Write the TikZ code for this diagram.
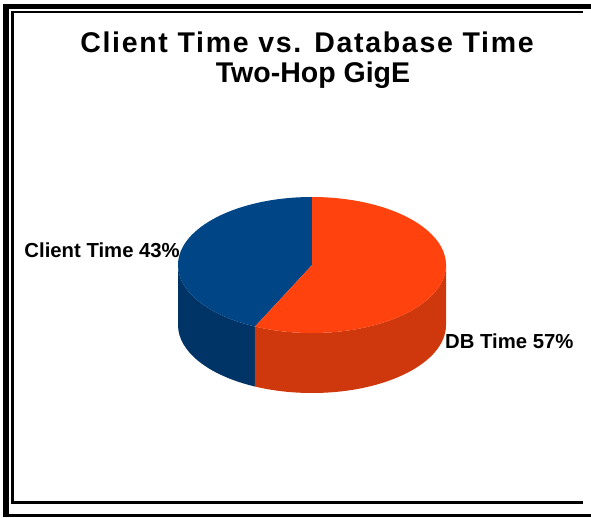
\documentclass[tikz,border=0pt]{standalone}
\usepackage{fontspec}
\setmainfont{Liberation Sans}
\usetikzlibrary{positioning}

\definecolor{clienttop}{RGB}{0,69,134}
\definecolor{clientside}{RGB}{0,52,102}
\definecolor{dbtop}{RGB}{255,66,14}
\definecolor{dbside}{RGB}{207,56,12}

\begin{document}
\begin{tikzpicture}[
  x=1pt, y=1pt,
  titletext/.style={inner sep=0pt, anchor=base, font=\fontsize{28.5}{31}\selectfont\bfseries},
  lbl/.style={inner sep=0pt, font=\fontsize{20.3}{24}\selectfont\bfseries},
  rim/.style={draw=black, line width=2.5pt},
  disc/.style={x radius=134, y radius=68}
]
  \useasboundingbox (0,0) rectangle (591,517);

  % Marco
  \fill[black] (3,508) rectangle (591,513);
  \fill[black] (3,0) rectangle (9,513);
  \fill[black] (3,0) rectangle (591,3);
  \draw[rim] (583,504.75) -- (12.5,504.75) -- (12.5,14.5) -- (583,14.5);

  % Titulo
  \node[titletext] (title) at (307,464)
    {\addfontfeature{LetterSpace=6}Client Time vs. Database Time};
  \node[titletext] (subtitle) at (313,434) {Two-Hop GigE};

  % Tarta
  \coordinate (c) at (312,252);

  % Lados
  \foreach \a/\b/\col in {180/244.8/clientside, 244.8/360/dbside} {
    \fill[\col] (c) ++(\a:134 and 68) arc[disc, start angle=\a, end angle=\b]
      -- ++(0,-60) arc[disc, start angle=\b, end angle=\a] -- cycle;
  }

  % Tapa
  \foreach \a/\b/\col in {90/244.8/clienttop, 244.8/450/dbtop} {
    \fill[\col] (c) -- ++(\a:134 and 68) arc[disc, start angle=\a, end angle=\b] -- cycle;
  }

  % Etiquetas
  \node[lbl, anchor=base east] (client) at (180,259) {Client Time 43\%};
  \node[lbl, anchor=base west] (db) at (445,169) {DB Time 57\%};
\end{tikzpicture}
\end{document}
